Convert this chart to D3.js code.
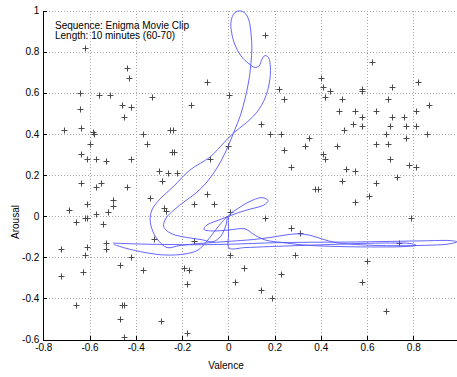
<!DOCTYPE html>
<html>
<head>
<meta charset="utf-8">
<script src="https://cdn.jsdelivr.net/npm/d3@7"></script>
<style>
  html, body { margin: 0; padding: 0; background: #fff; }
  svg { display: block; font-family: "Liberation Sans", Arial, Helvetica, sans-serif; }
  .axis text { font-size: 10px; fill: #000; }
  .axis path, .axis line { stroke: #000; shape-rendering: crispEdges; }
</style>
</head>
<body>
<svg id="chart" width="457" height="377"></svg>
<script>
// scattered ratings (valence, arousal)
const valence = [
  -0.62, -0.44, -0.43, -0.09, -0.64, -0.56, -0.51, -0.33, 0.005, -0.46,
  -0.42, -0.16, -0.64, -0.45, -0.635, -0.71, -0.585, -0.58, -0.37, -0.25,
  -0.24, -0.60, -0.35, 0.0, -0.635, -0.61, -0.57, -0.53, -0.42, -0.245,
  -0.235, -0.08, -0.30, -0.26, -0.22, -0.285, -0.635, -0.55, -0.57, -0.44,
  0.16, 0.22, 0.14, 0.18, 0.24, 0.23, 0.35, 0.33, 0.24, 0.27,
  0.375, 0.39, 0.40, 0.41, 0.44, 0.42, 0.49, 0.58, 0.58, 0.62,
  0.71, 0.82, 0.69, 0.87, 0.48, 0.55, 0.64, 0.81, 0.58, 0.71,
  0.76, 0.54, 0.58, 0.70, 0.77, 0.81, 0.50, 0.68, 0.86, 0.77,
  0.47, 0.64, 0.69, 0.41, 0.42, 0.70, 0.78, 0.81, 0.51, 0.55,
  0.73, 0.49, 0.64,
  -0.09, -0.34, -0.50, -0.50, -0.61, -0.15, -0.06, -0.28, -0.27, -0.69,
  -0.52, -0.57, -0.66, -0.62, -0.61, -0.54, -0.32, -0.53, -0.53, -0.725,
  -0.61, -0.15, -0.62, -0.42, -0.47, -0.37, -0.19, -0.17, -0.63, -0.725,
  -0.18, -0.46, -0.45, -0.66, -0.47, -0.29, -0.45, -0.18,
  0.55, 0.61, 0.007, 0.16, 0.79, 0.27, 0.31, 0.74, 0.007, 0.29,
  0.60, 0.07, 0.23, 0.03, 0.58, 0.14, 0.19, 0.68
];
const arousal = [
  0.82, 0.72, 0.67, 0.65, 0.60, 0.59, 0.59, 0.58, 0.59, 0.54,
  0.53, 0.54, 0.52, 0.48, 0.43, 0.42, 0.41, 0.40, 0.40, 0.42,
  0.42, 0.35, 0.35, 0.34, 0.30, 0.28, 0.28, 0.27, 0.28, 0.31,
  0.31, 0.28, 0.22, 0.21, 0.21, 0.17, 0.16, 0.16, 0.14, 0.14,
  0.88, 0.62, 0.45, 0.40, 0.57, 0.40, 0.38, 0.34, 0.32, 0.24,
  0.13, 0.13, 0.67, 0.63, 0.61, 0.58, 0.57, 0.62, 0.61, 0.75,
  0.63, 0.65, 0.57, 0.54, 0.51, 0.51, 0.51, 0.51, 0.48, 0.48,
  0.48, 0.45, 0.44, 0.44, 0.44, 0.44, 0.42, 0.40, 0.40, 0.38,
  0.34, 0.35, 0.35, 0.30, 0.28, 0.28, 0.25, 0.24, 0.23, 0.22,
  0.19, 0.17, 0.16,
  0.11, 0.09, 0.08, 0.05, 0.06, 0.06, 0.06, 0.04, 0.025, 0.03,
  0.02, 0.01, -0.03, -0.01, -0.01, -0.04, -0.11, -0.13, -0.16, -0.16,
  -0.15, -0.12, -0.19, -0.20, -0.24, -0.26, -0.25, -0.26, -0.27, -0.29,
  -0.33, -0.43, -0.43, -0.43, -0.50, -0.51, -0.59, -0.57,
  0.07, 0.10, 0.02, -0.01, -0.01, -0.06, -0.08, -0.13, -0.19, -0.19,
  -0.22, -0.25, -0.28, -0.32, -0.32, -0.36, -0.40, -0.46
];

// continuous annotation trace
const traceValence = [
  -0.499, -0.405, -0.274, -0.122, 0.029, 0.180, 0.353, 0.527, 0.700, 0.851,
  0.959, 0.989, 0.950, 0.851, 0.743, 0.626, 0.527, 0.461, 0.405, 0.353,
  0.297, 0.241, 0.180, 0.115, 0.051, -0.027, -0.122, -0.209, -0.265,
  -0.300, -0.326, -0.338, -0.330, -0.300, -0.239, -0.166, -0.079, -0.036, 0.020,
  0.077, 0.124, 0.159, 0.178, 0.182, 0.174, 0.159, 0.146, 0.133, 0.115,
  0.090, 0.055, 0.029, 0.014, 0.012, 0.027, 0.051, 0.074, 0.090, 0.098,
  0.102, 0.098, 0.090, 0.074, 0.053, 0.031, 0.012, -0.014, -0.049, -0.092,
  -0.140, -0.187, -0.235, -0.269, -0.280, -0.265, -0.230, -0.179, -0.118, -0.066,
  -0.032, -0.010, -0.001, 0.051, 0.102, 0.146, 0.172, 0.154, 0.098, 0.046,
  -0.001, -0.053, -0.096, -0.105, -0.070, -0.001, 0.072, 0.107, 0.159, 0.232,
  0.332, 0.483, 0.656, 0.764, 0.812, 0.786, 0.700, 0.570, 0.440, 0.310,
  0.180, 0.072, 0.003,
  0.001, 0.000, -0.001, -0.027, -0.058, -0.092, -0.131, -0.187, -0.274, -0.360,
  -0.447, -0.494
];
const traceArousal = [
  -0.131, -0.135, -0.138, -0.139, -0.136, -0.130, -0.127, -0.126, -0.123, -0.120,
  -0.119, -0.125, -0.136, -0.142, -0.144, -0.142, -0.136, -0.128, -0.111, -0.093,
  -0.086, -0.093, -0.104, -0.113, -0.119, -0.125, -0.133, -0.143, -0.153,
  -0.122, -0.075, -0.019, 0.030, 0.078, 0.142, 0.224, 0.287, 0.336, 0.402,
  0.453, 0.506, 0.574, 0.652, 0.725, 0.771, 0.781, 0.764, 0.730, 0.723,
  0.740, 0.779, 0.832, 0.895, 0.949, 0.988, 0.998, 0.985, 0.949, 0.890,
  0.818, 0.745, 0.667, 0.579, 0.492, 0.428, 0.375, 0.307, 0.234, 0.166,
  0.112, 0.073, 0.030, -0.009, -0.048, -0.072, -0.092, -0.104, -0.114, -0.124,
  -0.097, -0.043, -0.001, 0.044, 0.076, 0.090, 0.076, 0.054, 0.035, 0.018,
  -0.002, -0.024, -0.046, -0.065, -0.072, -0.068, -0.062, -0.087, -0.116, -0.128,
  -0.141, -0.148, -0.150, -0.148, -0.142, -0.133, -0.131, -0.133, -0.138, -0.143,
  -0.148, -0.153, -0.155,
  -0.092, -0.029, -0.002, -0.029, -0.072, -0.121, -0.165, -0.184, -0.189, -0.177,
  -0.155, -0.138
];

const xTicks = [-0.8, -0.6, -0.4, -0.2, 0, 0.2, 0.4, 0.6, 0.8];
const yTicks = [-0.6, -0.4, -0.2, 0, 0.2, 0.4, 0.6, 0.8, 1];
const infoLines = ['Sequence: Enigma Movie Clip', 'Length: 10 minutes (60-70)'];

const svg = d3.select('#chart');
const plotLeft = 43.3, plotBottom = 339.5, plotTop = 10.5;

const x = d3.scaleLinear().domain([-0.8, 1]).range([plotLeft, plotLeft + 1.8 * 231.25]);
const y = d3.scaleLinear().domain([-0.6, 1]).range([plotBottom, plotTop]);
const fmt = d => (d === 0 ? '0' : d3.format('.1f')(d).replace(/\.0$/, '').replace('−', '-'));

// dotted grid
const grid = svg.append('g')
  .attr('stroke', '#a8a8a8')
  .attr('stroke-width', 1)
  .attr('stroke-dasharray', '1,2')
  .attr('shape-rendering', 'crispEdges');

grid.selectAll('.gx').data(xTicks.concat([1]).filter(d => d > -0.8))
  .join('line')
  .attr('x1', d => Math.round(x(d)) + 0.5).attr('x2', d => Math.round(x(d)) + 0.5)
  .attr('y1', y(1)).attr('y2', y(-0.6));

grid.selectAll('.gy').data(yTicks.filter(d => d > -0.6))
  .join('line')
  .attr('x1', x(-0.8)).attr('x2', x(1))
  .attr('y1', d => Math.round(y(d)) + 0.5).attr('y2', d => Math.round(y(d)) + 0.5);

// plus markers
svg.append('g')
  .attr('stroke', '#4a4a4a')
  .attr('stroke-width', 1)
  .attr('fill', 'none')
  .selectAll('path')
  .data(d3.range(valence.length))
  .join('path')
  .attr('transform', i => `translate(${Math.round(x(valence[i])) + 0.5},${Math.round(y(arousal[i])) + 0.5})`)
  .attr('d', 'M-3,0H3M0,-3V3');

// trace
const line = d3.line()
  .x(i => x(traceValence[i]))
  .y(i => y(traceArousal[i]))
  .curve(d3.curveCatmullRom.alpha(0.5));

svg.append('path')
  .datum(d3.range(traceValence.length))
  .attr('fill', 'none')
  .attr('stroke', 'rgb(85,85,255)')
  .attr('stroke-width', 0.9)
  .attr('d', line);

// axes
svg.append('g')
  .attr('class', 'axis')
  .attr('transform', `translate(0,${plotBottom})`)
  .call(d3.axisBottom(x).tickValues(xTicks).tickFormat(fmt).tickSizeInner(-4).tickSizeOuter(0).tickPadding(4))
  .call(g => g.select('.domain').attr('d', `M${plotLeft},0.5H457`));

svg.append('g')
  .attr('class', 'axis')
  .attr('transform', `translate(${plotLeft},0)`)
  .call(d3.axisLeft(y).tickValues(yTicks).tickFormat(fmt).tickSizeInner(-4).tickSizeOuter(0).tickPadding(4));

// labels
svg.append('text')
  .attr('x', 226).attr('y', 369)
  .attr('text-anchor', 'middle')
  .attr('font-size', 10)
  .text('Valence');

svg.append('text')
  .attr('transform', 'translate(19,222) rotate(-90)')
  .attr('text-anchor', 'middle')
  .attr('font-size', 10)
  .text('Arousal');

svg.append('g').selectAll('text').data(infoLines)
  .join('text')
  .attr('x', 55)
  .attr('y', (d, i) => 28.5 + i * 10)
  .attr('font-size', 10)
  .text(d => d);
</script>
</body>
</html>
